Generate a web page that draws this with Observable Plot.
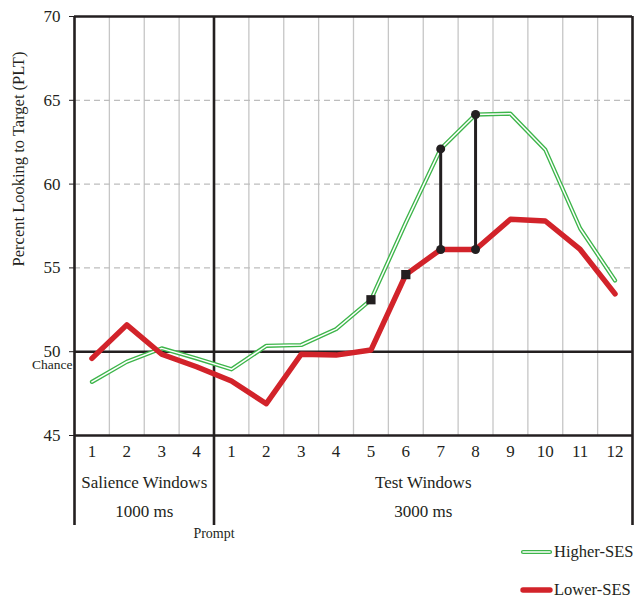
<!DOCTYPE html>
<html>
<head>
<meta charset="utf-8">
<script src="https://cdn.jsdelivr.net/npm/d3@7"></script>
<script src="https://cdn.jsdelivr.net/npm/@observablehq/plot@0.6"></script>
<style>
  body { margin: 0; background: white; }
  #wrap { position: relative; width: 636px; height: 600px; font-family: "Liberation Serif", "Times New Roman", serif; color: #231f20; }
  #wrap svg, #wrap svg text { font-family: "Liberation Serif", "Times New Roman", serif !important; }
  .leg { position: absolute; left: 520px; display: flex; align-items: center; font-size: 16.5px; }
  .leg svg { display: block; margin-right: 1px; }
</style>
</head>
<body>
<div id="wrap"></div>
<script>
// ---- data ----
const salienceWindows = ["1", "2", "3", "4"];
const testWindows = ["1", "2", "3", "4", "5", "6", "7", "8", "9", "10", "11", "12"];
const higherSES = [48.2, 49.4, 50.2, 49.6, 48.95, 50.35, 50.4, 51.35, 53.1, 57.7, 62.1, 64.15, 64.2, 62.05, 57.35, 54.25];
const lowerSES  = [49.6, 51.6, 49.85, 49.1, 48.25, 46.9, 49.85, 49.8, 50.1, 54.6, 56.1, 56.1, 57.9, 57.8, 56.1, 53.45];
const yTicks = [45, 50, 55, 60, 65, 70];
const groupNames = ["Salience Windows", "Test Windows"];
const groupDurations = ["1000 ms", "3000 ms"];
const connectorTestWindows = [7, 8];
const squareHigherTestWindow = 5;
const squareLowerTestWindow = 6;
const chanceLevel = 50;
const yTitle = "Percent Looking to Target (PLT)";

// ---- derived table ----
const labels = [...salienceWindows, ...testWindows];
const rows = labels.map((label, k) => ({i: k + 1, label, hi: higherSES[k], lo: lowerSES[k]}));
const nS = salienceWindows.length;
const testRow = w => rows[nS + w - 1];
const groups = [
  {x: d3.mean(rows.slice(0, nS), d => d.i), name: groupNames[0], dur: groupDurations[0]},
  {x: d3.mean(rows.slice(nS), d => d.i), name: groupNames[1], dur: groupDurations[1]}
];
const edges = d3.range(0, rows.length + 1).map(k => k + 0.5);
const majorEdges = [edges[0], edges[nS], edges[edges.length - 1]];
const minorEdges = edges.filter(e => !majorEdges.includes(e));
const connectors = connectorTestWindows.map(testRow);
const connectorDots = connectors.flatMap(d => [{i: d.i, v: d.hi}, {i: d.i, v: d.lo}]);
const squares = [
  {i: testRow(squareHigherTestWindow).i, v: testRow(squareHigherTestWindow).hi},
  {i: testRow(squareLowerTestWindow).i, v: testRow(squareLowerTestWindow).lo}
];

const ink = "#231f20";
const green = "#3db54a";
const red = "#d2232a";
const serif = "Liberation Serif, Times New Roman, serif";

const chart = Plot.plot({
  width: 636,
  height: 540,
  marginLeft: 74,
  marginRight: 4,
  marginTop: 16,
  marginBottom: 105,
  x: {type: "linear", domain: [edges[0], edges[edges.length - 1]], axis: null},
  y: {domain: [45, 70], axis: null},
  style: {fontFamily: serif, color: ink, background: "white", overflow: "visible"},
  marks: [
    Plot.ruleX(minorEdges, {stroke: "#c6c6c6", strokeWidth: 1.3}),
    Plot.ruleY([55, 60, 65], {stroke: "#bdbdbd", strokeWidth: 1.3, strokeDasharray: "6,4"}),
    Plot.ruleY([45, chanceLevel, 70], {stroke: ink, strokeWidth: 2.6}),
    Plot.ruleX(majorEdges, {stroke: ink, strokeWidth: 2.6, insetBottom: -90}),
    Plot.axisY({ticks: yTicks, tickSize: 5, tickPadding: 9, fontSize: 17, tickFormat: d => String(d), label: null}),
    Plot.text([yTitle], {frameAnchor: "left", textAnchor: "middle", rotate: -90, dx: -56, dy: -67, fontSize: 16.5}),
    Plot.text(["Chance"], {y: chanceLevel, frameAnchor: "left", textAnchor: "end", dx: -2, dy: 13, fontSize: 13.5}),
    // series
    Plot.line(rows, {x: "i", y: "hi", stroke: green, strokeWidth: 4.2}),
    Plot.line(rows, {x: "i", y: "hi", stroke: "white", strokeWidth: 1.5}),
    Plot.line(rows, {x: "i", y: "lo", stroke: red, strokeWidth: 5.4}),
    // highlights
    Plot.ruleX(connectors, {x: "i", y1: "lo", y2: "hi", stroke: ink, strokeWidth: 3}),
    Plot.dot(connectorDots, {x: "i", y: "v", r: 4.5, fill: ink}),
    Plot.dot(squares, {x: "i", y: "v", symbol: "square", r: 5.2, fill: ink}),
    // window labels below
    Plot.text(rows, {x: "i", text: "label", frameAnchor: "bottom", dy: 21, fontSize: 17}),
    Plot.text(groups, {x: "x", text: "name", frameAnchor: "bottom", dy: 52, fontSize: 17}),
    Plot.text(groups, {x: "x", text: "dur", frameAnchor: "bottom", dy: 81, fontSize: 17}),
    Plot.text(["Prompt"], {x: majorEdges[1], frameAnchor: "bottom", dy: 102, fontSize: 14})
  ]
});

const wrap = document.getElementById("wrap");
wrap.appendChild(chart);

function legendItem(top, name, draw) {
  const div = document.createElement("div");
  div.className = "leg";
  div.style.top = top + "px";
  div.innerHTML = `<svg width="33" height="10">${draw}</svg><span>${name}</span>`;
  wrap.appendChild(div);
}
legendItem(542, "Higher-SES",
  `<line x1="3" y1="5" x2="30" y2="5" stroke="${green}" stroke-width="4.2" stroke-linecap="round"/>
   <line x1="3" y1="5" x2="30" y2="5" stroke="white" stroke-width="1.5" stroke-linecap="round"/>`);
legendItem(580, "Lower-SES",
  `<line x1="3" y1="5" x2="30" y2="5" stroke="${red}" stroke-width="5.4" stroke-linecap="round"/>`);
</script>
</body>
</html>
